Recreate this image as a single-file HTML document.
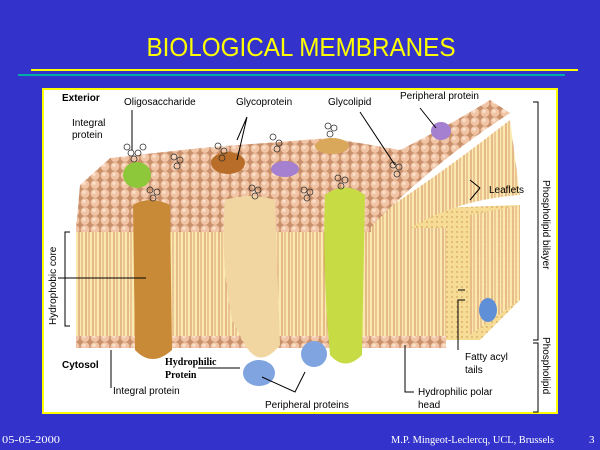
<!DOCTYPE html>
<html><head><meta charset="utf-8"><style>
html,body{margin:0;padding:0}
body{width:600px;height:450px;background:#3333cc;position:relative;overflow:hidden;font-family:"Liberation Sans",sans-serif}
</style></head><body>
<svg width="600" height="450" viewBox="0 0 600 450" xmlns="http://www.w3.org/2000/svg" style="position:absolute;left:0;top:0">
<defs>
<pattern id="heads" width="10" height="9" patternUnits="userSpaceOnUse">
<rect width="10" height="9" fill="#c9906c"/>
<circle cx="5" cy="4.5" r="4.4" fill="#f0c4a4"/>
<circle cx="4" cy="3.3" r="1.7" fill="#fbe0cc"/>
</pattern>
<pattern id="tails" width="7" height="40" patternUnits="userSpaceOnUse">
<rect width="7" height="40" fill="#fbeab0"/>
<line x1="2" y1="0" x2="2" y2="40" stroke="#c8704a" stroke-width="0.8"/>
<line x1="5" y1="0" x2="5" y2="40" stroke="#c8704a" stroke-width="0.6"/>
</pattern>
<pattern id="dots" width="5" height="5" patternUnits="userSpaceOnUse">
<rect width="5" height="5" fill="#f6dc94"/>
<circle cx="2" cy="2" r="0.7" fill="#c88a50"/>
</pattern>
</defs>
<text x="301" y="56" text-anchor="middle" fill="#ffff00" font-size="26" textLength="309" lengthAdjust="spacingAndGlyphs" font-family="Liberation Sans">BIOLOGICAL MEMBRANES</text>
<rect x="31" y="69" width="547" height="2" fill="#ffff00"/>
<rect x="18" y="74" width="547" height="2" fill="#00aaaa"/>
<rect x="43" y="89" width="514" height="324" fill="#fff" stroke="#ffff00" stroke-width="2"/>

<polygon points="380,210 520,205 520,300 480,340 430,340" fill="url(#dots)"/>
<polygon points="470,215 520,205 520,300 470,335" fill="url(#tails)" opacity="0.9"/>
<ellipse cx="488" cy="310" rx="9" ry="12" fill="#5f8fd6"/>
<rect x="76" y="228" width="370" height="115" fill="url(#tails)"/>
<rect x="76" y="336" width="370" height="12" fill="url(#heads)"/>
<path d="M360,225 Q420,190 510,120 L520,195 Q450,200 400,235 L360,250Z" fill="url(#tails)"/>
<path d="M76,230 L80,185 L110,158 L200,148 L330,138 L400,150 Q450,125 490,100 L510,113 Q430,165 370,228 Z" fill="url(#heads)"/>
<rect x="76" y="222" width="295" height="10" fill="url(#heads)"/>
<path d="M133,205 Q150,195 170,205 L172,350 Q152,368 135,350 Z" fill="#c98a38"/>
<path d="M225,200 Q250,192 275,200 L280,345 Q260,370 245,345 L232,320 Q220,260 225,200Z" fill="#f2d6a2"/>
<path d="M325,195 Q345,180 365,195 L362,355 Q345,372 330,355 Q322,270 325,195Z" fill="#c7dc44"/>
<ellipse cx="137" cy="175" rx="14" ry="13" fill="#8cc83a"/>
<ellipse cx="228" cy="163" rx="17" ry="11" fill="#b86e28"/>
<ellipse cx="285" cy="169" rx="14" ry="8" fill="#a57fd0"/>
<ellipse cx="332" cy="146" rx="17" ry="8" fill="#d9a85a"/>
<ellipse cx="441" cy="131" rx="10" ry="9" fill="#a57fd0"/>
<ellipse cx="259" cy="373" rx="16" ry="13" fill="#7fa4e0"/>
<ellipse cx="314" cy="354" rx="13" ry="13" fill="#7fa4e0"/>
<g fill="none" stroke="#333" stroke-width="0.8">
<circle cx="131" cy="153" r="3"/><circle cx="138" cy="153" r="3"/><circle cx="134" cy="159" r="3"/><circle cx="127" cy="147" r="3"/><circle cx="143" cy="147" r="3"/>
<circle cx="174" cy="157" r="3"/><circle cx="180" cy="160" r="3"/><circle cx="177" cy="166" r="3"/>
<circle cx="218" cy="146" r="3"/><circle cx="224" cy="151" r="3"/><circle cx="222" cy="158" r="3"/>
<circle cx="273" cy="137" r="3"/><circle cx="279" cy="143" r="3"/><circle cx="277" cy="149" r="3"/>
<circle cx="328" cy="126" r="3"/><circle cx="334" cy="128" r="3"/><circle cx="330" cy="134" r="3"/>
<circle cx="393" cy="165" r="3"/><circle cx="399" cy="167" r="3"/><circle cx="397" cy="174" r="3"/>
<circle cx="150" cy="190" r="3"/><circle cx="157" cy="192" r="3"/><circle cx="153" cy="198" r="3"/>
<circle cx="252" cy="188" r="3"/><circle cx="258" cy="190" r="3"/><circle cx="255" cy="196" r="3"/>
<circle cx="304" cy="190" r="3"/><circle cx="310" cy="192" r="3"/><circle cx="307" cy="198" r="3"/>
<circle cx="338" cy="178" r="3"/><circle cx="345" cy="180" r="3"/><circle cx="341" cy="186" r="3"/>
</g>
<g stroke="#000" stroke-width="1" fill="none">
<line x1="132" y1="110" x2="132" y2="150"/>
<path d="M247,117 L237,140 M247,117 L237,160"/>
<path d="M360,112 L395,165"/>
<path d="M420,108 L436,128"/>
<path d="M70,232 L65,232 L65,326 L70,326 M58,278 L146,278"/>
<path d="M111,350 L111,388"/>
<path d="M198,368 L240,368 M262,377 L295,392 L305,372"/>
<path d="M405,345 L405,392 L414,392"/>
<path d="M465,300 L458,300 L458,350 M458,290 L465,290"/>
<path d="M480,188 L470,180 M480,188 L470,200"/>
<path d="M533,102 L538,102 L538,340 L533,340"/>
<path d="M533,343 L538,343 L538,412 L533,412"/>
</g>
<g font-size="10" fill="#000">
<text x="62" y="101" font-weight="bold">Exterior</text>
<text x="124" y="105">Oligosaccharide</text>
<text x="236" y="105">Glycoprotein</text>
<text x="328" y="105">Glycolipid</text>
<text x="400" y="99">Peripheral protein</text>
<text x="72" y="126">Integral</text>
<text x="72" y="138">protein</text>
<text x="489" y="193">Leaflets</text>
<text x="465" y="360">Fatty acyl</text>
<text x="465" y="373">tails</text>
<text x="418" y="395">Hydrophilic polar</text>
<text x="418" y="408">head</text>
<text x="62" y="368" font-weight="bold">Cytosol</text>
<text x="113" y="394">Integral protein</text>
<text x="265" y="408">Peripheral proteins</text>
<text transform="translate(56,325) rotate(-90)">Hydrophobic core</text>
<text transform="translate(543,180) rotate(90)">Phospholipid  bilayer</text>
<text transform="translate(543,337) rotate(90)">Phospholipid</text>
<text x="165" y="365" font-family="Liberation Serif" font-weight="bold">Hydrophilic</text>
<text x="165" y="378" font-family="Liberation Serif" font-weight="bold">Protein</text>
</g>
<g fill="#fff" font-family="Liberation Serif" font-size="11">
<text x="2" y="443" textLength="58" lengthAdjust="spacingAndGlyphs">05-05-2000</text>
<text x="391" y="443" textLength="163" lengthAdjust="spacingAndGlyphs">M.P. Mingeot-Leclercq, UCL, Brussels</text>
<text x="589" y="443">3</text>
</g>
</svg>
</body></html>
